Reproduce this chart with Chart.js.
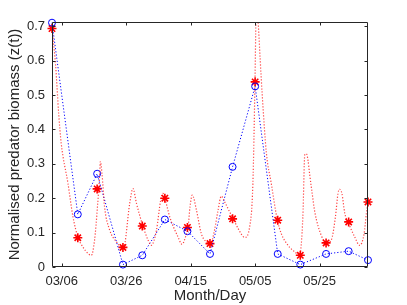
<!DOCTYPE html>
<html>
<head>
<meta charset="utf-8">
<script src="https://cdn.jsdelivr.net/npm/chart.js@4"></script>
<style>
  html, body { margin: 0; padding: 0; background: #fff; }
  #wrap { width: 407px; height: 305px; }
</style>
</head>
<body>
<div id="wrap"><canvas id="chart" width="407" height="305"></canvas></div>
<script>
/* ---------- data (days counted from 03/06) ---------- */
const sampleDays = [-3, 5, 11, 19, 25, 32, 39, 46, 53, 60, 67, 74, 82, 89, 95];
const observedZ = [0.71, 0.153, 0.271, 0.007, 0.034, 0.138, 0.104, 0.038, 0.291, 0.525, 0.038, 0.007, 0.038, 0.046, 0.02];
const modelZ = [0.693, 0.085, 0.227, 0.057, 0.119, 0.2, 0.115, 0.068, 0.14, 0.538, 0.136, 0.034, 0.07, 0.131, 0.189];

/* ---------- model curve between samples ---------- */
const curveDays = [-3, -1.9, -0.9, -0.15, 1.95, 3.5, 5.1, 6.6, 8.2, 9.2, 10.2, 11.1, 11.8, 12.0, 12.5, 13.3, 14.9, 17.0, 18.5, 19.2,
  21.1, 22.1, 23.2, 24.2, 25.2, 26.8, 27.8, 29.4, 30.7, 31.4, 32.0, 33.5, 36.1, 37.3, 38.5, 39.2, 39.8, 40.5, 41.8, 43.3, 44.9, 46.2,
  47.4, 48.5, 49.5, 50.5, 52.1, 53.3, 54.7, 56.8, 58.3, 59.3, 59.95, 60.25, 60.6, 60.95, 62.2, 63.5, 65.0, 66.9, 68.1, 70.2, 72.3, 73.8,
  74.8, 75.4, 75.9, 76.4, 76.9, 77.6, 78.5, 80.5, 82.1, 83.6, 84.9, 85.7, 86.2, 86.9, 87.8, 88.8, 90.9, 92.4, 93.8, 94.5, 95];
const curveZ = [0.693, 0.588, 0.442, 0.36, 0.243, 0.146, 0.085, 0.058, 0.039, 0.034, 0.078, 0.175, 0.272, 0.306, 0.272, 0.175, 0.107, 0.073, 0.058, 0.057,
  0.185, 0.228, 0.185, 0.15, 0.119, 0.078, 0.063, 0.107, 0.194, 0.214, 0.2, 0.146, 0.087, 0.066, 0.09, 0.115, 0.175, 0.209, 0.165, 0.097, 0.073, 0.068,
  0.107, 0.165, 0.206, 0.19, 0.16, 0.139, 0.112, 0.086, 0.117, 0.243, 0.538, 0.72, 0.78, 0.712, 0.5, 0.33, 0.243, 0.136, 0.097, 0.063, 0.044, 0.034,
  0.146, 0.326, 0.329, 0.31, 0.27, 0.22, 0.16, 0.092, 0.07, 0.078, 0.146, 0.214, 0.226, 0.214, 0.156, 0.131, 0.087, 0.063, 0.097, 0.156, 0.188];

/* ---------- axis ticks ---------- */
const tickDays = [0, 20, 40, 60, 80];
const tickLabels = ["03/06", "03/26", "04/15", "05/05", "05/25"];
const yTicks = [0, 0.1, 0.2, 0.3, 0.4, 0.5, 0.6, 0.7];

const axisColor = "#262626";
const pts = (xs, ys) => xs.map((x, i) => ({ x: x, y: ys[i] }));

/* ---------- matlab style box with inward ticks ---------- */
const boxPlugin = {
  id: "box",
  afterDraw(chart) {
    const ctx = chart.ctx;
    const a = chart.chartArea;
    const xs = chart.scales.x, ys = chart.scales.y;
    const L = Math.round(a.left) + 0.5, R = Math.round(a.right) - 0.5;
    const T = Math.round(a.top) + 0.5, B = Math.round(a.bottom) - 0.5;
    ctx.save();
    ctx.strokeStyle = axisColor;
    ctx.lineWidth = 1;
    ctx.beginPath();
    ctx.rect(L, T, R - L, B - T);
    tickDays.forEach((d) => {
      const px = Math.round(xs.getPixelForValue(d)) + 0.5;
      ctx.moveTo(px, B); ctx.lineTo(px, B - 3);
      ctx.moveTo(px, T); ctx.lineTo(px, T + 3);
    });
    yTicks.forEach((v) => {
      const py = Math.round(ys.getPixelForValue(v)) + 0.5;
      ctx.moveTo(L, py); ctx.lineTo(L + 3, py);
      ctx.moveTo(R, py); ctx.lineTo(R - 3, py);
    });
    ctx.stroke();
    ctx.restore();
  },
};

Chart.defaults.font.family = "'Liberation Sans', Arial, sans-serif";
Chart.defaults.color = axisColor;

new Chart(document.getElementById("chart"), {
  type: "line",
  plugins: [boxPlugin],
  data: {
    datasets: [
      {
        data: pts(curveDays, curveZ),
        borderColor: "rgba(255,0,0,0.75)",
        borderWidth: 1.2,
        borderDash: [1.2, 1.8],
        pointRadius: 0,
        cubicInterpolationMode: "monotone",
        fill: false,
      },
      {
        data: pts(sampleDays, observedZ),
        borderColor: "#0000ff",
        borderWidth: 1,
        borderDash: [1.2, 2],
        pointStyle: "circle",
        pointRadius: 3.5,
        pointBorderWidth: 1,
        pointBackgroundColor: "rgba(0,0,0,0)",
        pointBorderColor: "#0000ff",
        tension: 0,
        clip: false,
      },
      {
        data: pts(sampleDays, modelZ),
        showLine: false,
        pointStyle: "star",
        pointRadius: 4.5,
        pointBorderWidth: 1.6,
        pointBorderColor: "#ff0000",
        pointBackgroundColor: "#ff0000",
        clip: false,
      },
    ],
  },
  options: {
    responsive: false,
    animation: false,
    layout: { padding: { left: 0, top: 22, right: 39, bottom: 0 } },
    plugins: { legend: { display: false }, tooltip: { enabled: false } },
    scales: {
      x: {
        type: "linear",
        min: -3,
        max: 95,
        grid: { display: false, drawTicks: false },
        border: { display: false },
        afterBuildTicks: (scale) => { scale.ticks = tickDays.map((v) => ({ value: v })); },
        afterFit: (scale) => { scale.height = 38; },
        ticks: {
          padding: 7,
          maxRotation: 0,
          font: { size: 13 },
          callback: (v) => tickLabels[tickDays.indexOf(v)],
        },
        title: {
          display: true,
          text: "Month/Day",
          font: { size: 15 },
          padding: { top: 0, bottom: 0 },
        },
      },
      y: {
        min: 0,
        max: 0.712,
        grid: { display: false, drawTicks: false },
        border: { display: false },
        afterFit: (scale) => { scale.width = 52; },
        ticks: {
          stepSize: 0.1,
          includeBounds: false,
          padding: 7,
          font: { size: 13 },
          callback: (v) => (v === 0 ? "0" : v.toFixed(1)),
        },
        title: {
          display: true,
          text: "Normalised predator biomass (z(t))",
          font: { size: 15 },
          padding: { top: 6, bottom: 0 },
        },
      },
    },
  },
});
</script>
</body>
</html>
